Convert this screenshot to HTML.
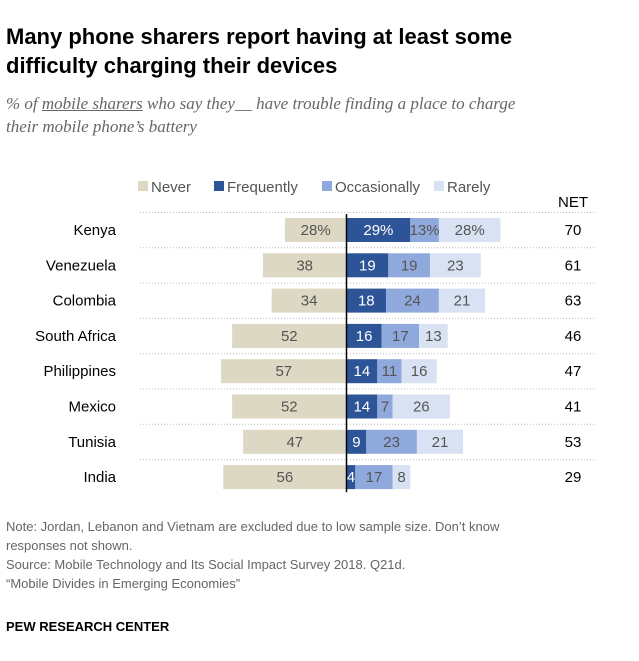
<!DOCTYPE html>
<html><head><meta charset="utf-8"><style>
body{margin:0;background:#fff;font-family:"Liberation Sans",sans-serif;}
#wrap{position:relative;width:639px;height:661px;overflow:hidden;}
.t{position:absolute;white-space:nowrap;}
</style></head><body><div id="wrap">
<div class="t" style="left:6px;top:22px;font-size:22px;font-weight:bold;color:#000;line-height:29px">Many phone sharers report having at least some<br>difficulty charging their devices</div>
<div class="t" style="left:6px;top:92px;font-size:17px;font-style:italic;color:#666;line-height:23px;font-family:'Liberation Serif',serif">% of <u>mobile sharers</u> who say they__ have trouble finding a place to charge<br>their mobile phone’s battery</div>
<svg id="chart" width="639" height="661" style="position:absolute;left:0;top:0"></svg>
<div class="t" style="left:6px;top:517px;font-size:13px;color:#666;line-height:19px">Note: Jordan, Lebanon and Vietnam are excluded due to low sample size. Don’t know<br>responses not shown.<br>Source: Mobile Technology and Its Social Impact Survey 2018. Q21d.<br>“Mobile Divides in Emerging Economies”</div>
<div class="t" style="left:6px;top:619px;font-size:13px;font-weight:bold;color:#000">PEW RESEARCH CENTER</div>
</div>
<script>
const countries=["Kenya","Venezuela","Colombia","South Africa","Philippines","Mexico","Tunisia","India"];
const never=[28,38,34,52,57,52,47,56];
const frequently=[29,19,18,16,14,14,9,4];
const occasionally=[13,19,24,17,11,7,23,17];
const rarely=[28,23,21,13,16,26,21,8];
const net=[70,61,63,46,47,41,53,29];
const legendLabels=["Never","Frequently","Occasionally","Rarely"];
const colors=["#dcd8c3","#2d5496","#8fa9dc","#d9e2f3"];
const svg=document.getElementById('chart');
const NS="http://www.w3.org/2000/svg";
const x0=346.5,k=2.2,y0=230,step=35.3,bh=24;
const xs=v=>v*k;
const yc=i=>y0+i*step;
function mk(tag,attrs,parent){const e=document.createElementNS(NS,tag);for(const a in attrs)e.setAttribute(a,attrs[a]);(parent||svg).appendChild(e);return e;}
// legend
const lx=[138,214,322,434];
legendLabels.forEach((l,j)=>{
 const g=mk('g',{});
 
 
 mk('rect',{x:lx[j],y:181,width:10,height:10,fill:colors[j]},g);
 const t=mk('text',{x:lx[j]+13,y:192,'font-size':15,fill:'#555'},g);t.textContent=l;
});
const nt=mk('text',{x:573,y:207,'font-size':15,fill:'#000','text-anchor':'middle'});nt.textContent="NET";

countries.forEach((c,i)=>{
 const y=yc(i);
 const sep=mk('line',{x1:140,x2:595,y1:y-17.5,y2:y-17.5,stroke:'#bbb','stroke-dasharray':'1,2','stroke-width':1});
 
 const lab=mk('text',{x:116,y:y+5,'font-size':15,fill:'#000','text-anchor':'end'});lab.textContent=c;
 
 const pct=i==0?'%':'';
 // never
 const w=xs(never[i]);
 const r=mk('rect',{x:x0-w,y:y-bh/2,width:w,height:bh,fill:colors[0]});
 
 const tn=mk('text',{x:x0-w/2,y:y+5,'font-size':15,fill:'#555','text-anchor':'middle'});tn.textContent=never[i]+pct;
 let cur=x0;
 [[frequently,1,'#fff','bar-frequently'],[occasionally,2,'#555','bar-occasionally'],[rarely,3,'#555','bar-rarely']].forEach(([arr,j,tc,name])=>{
  const ww=xs(arr[i]);
  const b=mk('rect',{x:cur,y:y-bh/2,width:ww,height:bh,fill:colors[j]});
  
  const tt=mk('text',{x:cur+ww/2,y:y+5,'font-size':15,fill:tc,'text-anchor':'middle'});tt.textContent=arr[i]+pct;
  cur+=ww;
 });
 const tv=mk('text',{x:573,y:y+5,'font-size':15,fill:'#000','text-anchor':'middle'});tv.textContent=net[i];
 
});
const ax=mk('line',{x1:x0,x2:x0,y1:214,y2:yc(7)+15,stroke:'#000','stroke-width':1.5});

</script></body></html>
